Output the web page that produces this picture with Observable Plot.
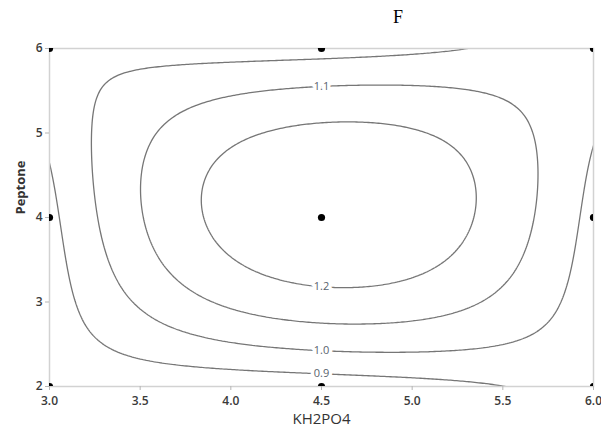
<!DOCTYPE html>
<html>
<head>
<meta charset="utf-8">
<script src="https://cdn.jsdelivr.net/npm/d3@7"></script>
<script src="https://cdn.jsdelivr.net/npm/@observablehq/plot@0.6"></script>
<style>
  body { margin: 0; background: #fff; }
  #wrap { position: relative; width: 601px; height: 434px; }
  #title { position: absolute; left: 378px; width: 40px; top: 8px; text-align: center;
           font: 18px/18px "Liberation Serif", "DejaVu Serif", serif; color: #000; }
</style>
</head>
<body>
<div id="wrap"><div id="title">F</div></div>
<script>
// Factor levels of the 3x3 design
const kh2po4Levels = [3.0, 4.5, 6.0];
const peptoneLevels = [2, 4, 6];
// Fitted response at each design point (columns follow kh2po4Levels)
const responseAtPeptone2 = [0.845, 0.839, 0.948];
const responseAtPeptone4 = [0.872, 1.290, 0.966];
const responseAtPeptone6 = [0.990, 0.957, 1.071];
// Contour levels and where each level is labelled (branch crossing KH2PO4 = 4.5)
const contourLevels = [0.9, 1.0, 1.1, 1.2];
const labelBranch = ["low", "low", "high", "low"];
const labelAtKh2po4 = 4.5;
// Tick labels
const xTicks = [3.0, 3.5, 4.0, 4.5, 5.0, 5.5, 6.0];
const yTicks = [2, 3, 4, 5, 6];

const responseGrid = [responseAtPeptone2, responseAtPeptone4, responseAtPeptone6];

function quadWeights(t, lv) {
  const [a, b, c] = lv;
  return [
    (t - b) * (t - c) / ((a - b) * (a - c)),
    (t - a) * (t - c) / ((b - a) * (b - c)),
    (t - a) * (t - b) / ((c - a) * (c - b))
  ];
}
// full quadratic response surface through the design-point responses
function surface(x, y) {
  const wx = quadWeights(x, kh2po4Levels);
  const wy = quadWeights(y, peptoneLevels);
  let s = 0;
  for (let j = 0; j < 3; ++j) for (let i = 0; i < 3; ++i) s += wy[j] * wx[i] * responseGrid[j][i];
  return s;
}

const designPoints = [];
for (const p of peptoneLevels) for (const k of kh2po4Levels) designPoints.push({kh2po4: k, peptone: p});

// position of contour labels: where each level crosses KH2PO4 = labelAtKh2po4
const yDom = [peptoneLevels[0], peptoneLevels[2]];
let yPeak = yDom[0], fPeak = -Infinity;
for (let k = 0; k <= 400; ++k) {
  const y = yDom[0] + (yDom[1] - yDom[0]) * k / 400;
  const f = surface(labelAtKh2po4, y);
  if (f > fPeak) { fPeak = f; yPeak = y; }
}
const contourLabels = contourLevels.map((L, i) => {
  let lo = labelBranch[i] === "low" ? yDom[0] : yPeak;
  let hi = labelBranch[i] === "low" ? yPeak : yDom[1];
  const inc = labelBranch[i] === "low";
  for (let k = 0; k < 60; ++k) {
    const m = (lo + hi) / 2;
    const f = surface(labelAtKh2po4, m);
    if ((f < L) === inc) lo = m; else hi = m;
  }
  return {x: labelAtKh2po4, y: (lo + hi) / 2, text: d3.format(".1f")(L)};
});

const xPad = 0.03 * (kh2po4Levels[2] - kh2po4Levels[0]);
const yPad = 0.03 * (peptoneLevels[2] - peptoneLevels[0]);

const chart = Plot.plot({
  width: 601,
  height: 434,
  marginLeft: 49,
  marginRight: 8,
  marginTop: 48,
  marginBottom: 48,
  style: {fontFamily: "'Open Sans', sans-serif", background: "white", overflow: "visible"},
  x: {domain: [kh2po4Levels[0], kh2po4Levels[2]]},
  y: {domain: yDom},
  marks: [
    Plot.contour({
      value: surface,
      x1: kh2po4Levels[0] - xPad, x2: kh2po4Levels[2] + xPad,
      y1: peptoneLevels[0] - yPad, y2: peptoneLevels[2] + yPad,
      thresholds: contourLevels,
      fill: "none", stroke: "#767676", strokeWidth: 1.3, clip: true
    }),
    Plot.frame({stroke: "#d2d2d2", strokeWidth: 1.5}),
    Plot.dot(designPoints, {x: "kh2po4", y: "peptone", r: 3.6, fill: "black", clip: true}),
    Plot.text(contourLabels, {x: "x", y: "y", text: "text", fill: "#59636d", stroke: "white", strokeWidth: 7, fontSize: 11}),
    Plot.axisX({ticks: xTicks, tickFormat: d3.format(".1f"), tickSize: 4, tickPadding: 6, fontSize: 12, fontWeight: 600, color: "#3a3a3a", stroke: "#b5b5b5", label: null}),
    Plot.axisY({ticks: yTicks, tickFormat: d3.format("d"), tickSize: 4, tickPadding: 3, fontSize: 12, fontWeight: 600, color: "#3a3a3a", stroke: "#b5b5b5", label: null}),
    Plot.text(["KH2PO4"], {frameAnchor: "bottom", dy: 37, fontSize: 15, fill: "#333"}),
    Plot.text(["Peptone"], {frameAnchor: "left", dx: -29, dy: -3, rotate: -90, fontSize: 13, fontWeight: "bold", fill: "#333"})
  ]
});
document.getElementById("wrap").appendChild(chart);
</script>
</body>
</html>
